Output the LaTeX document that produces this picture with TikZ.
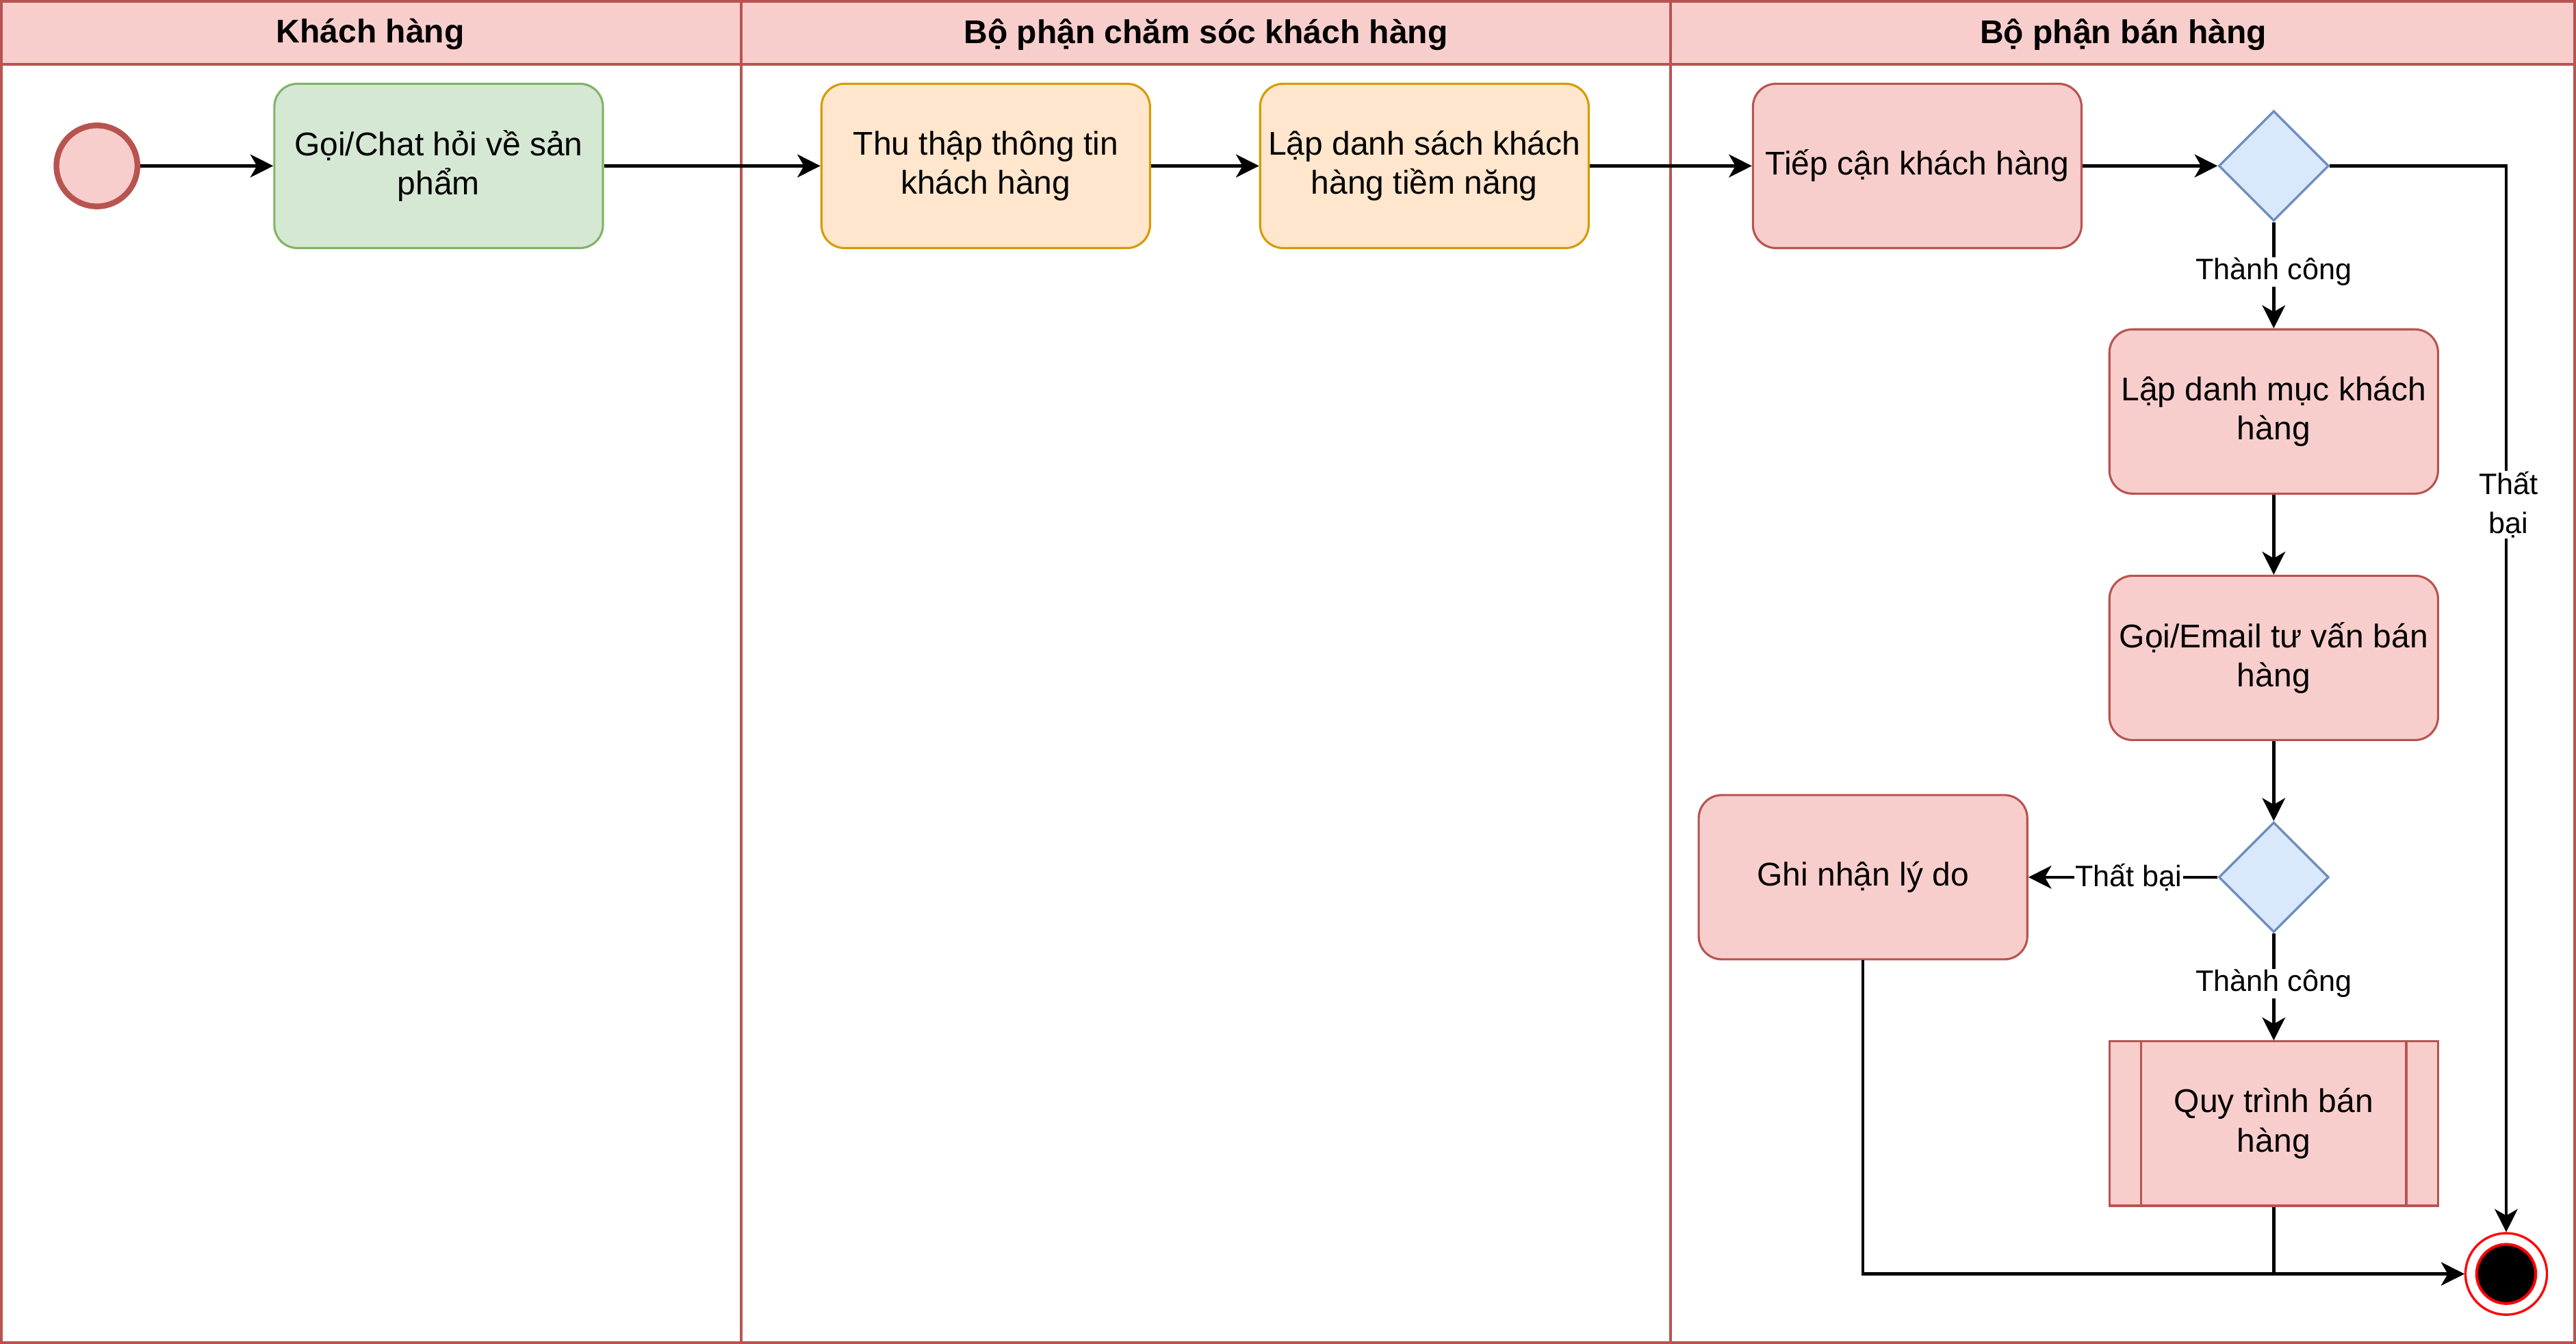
\documentclass[tikz,border=0pt]{standalone}
\usepackage{fontspec}
\setmainfont{Liberation Sans}
\usetikzlibrary{arrows.meta,shapes.geometric,calc}
\definecolor{lanered}{HTML}{B85450}
\definecolor{headfill}{HTML}{F8CECC}
\definecolor{gfill}{HTML}{D5E8D4}
\definecolor{gline}{HTML}{82B366}
\definecolor{ofill}{HTML}{FFE6CC}
\definecolor{oline}{HTML}{D79B00}
\definecolor{bfill}{HTML}{DAE8FC}
\definecolor{bline}{HTML}{6C8EBF}
\definecolor{endred}{HTML}{FF0000}
\begin{document}
\begin{tikzpicture}[x=1pt,y=-1pt,
  laneline/.style={draw=lanered, line width=1.6pt},
  head/.style={font=\fontsize{20}{23}\selectfont\bfseries, inner sep=0pt},
  box/.style={rectangle, rounded corners=14pt, minimum width=200pt, minimum height=100pt,
    inner sep=0pt, align=center, line width=1.3pt, font=\fontsize{20}{24}\selectfont},
  gbox/.style={box, fill=gfill, draw=gline},
  obox/.style={box, fill=ofill, draw=oline},
  rbox/.style={box, fill=headfill, draw=lanered},
  subbox/.style={box, rounded corners=0pt, fill=headfill, draw=lanered},
  subline/.style={draw=lanered, line width=1.3pt},
  dec/.style={diamond, shape aspect=1, minimum width=67pt, minimum height=67pt, inner sep=0pt,
    fill=bfill, draw=bline, line width=1.4pt},
  startc/.style={circle, minimum size=49.3pt, inner sep=0pt, fill=headfill, draw=lanered, line width=3.5pt},
  endouter/.style={circle, minimum size=49.6pt, inner sep=0pt, fill=white, draw=endred, line width=1.4pt},
  endinner/.style={circle, minimum size=36pt, inner sep=0pt, fill=black, draw=endred, line width=1.7pt},
  conn/.style={line width=1.8pt, -{Stealth[length=14pt,width=14pt,inset=4pt]}},
  lbl/.style={fill=white, inner sep=0.6pt, align=center, font=\fontsize{18}{23.5}\selectfont}
]
\useasboundingbox (0,0) rectangle (1568,818);
% lanes
\fill[headfill] (0,0) rectangle (1568,39);
\draw[laneline] (0.8,0.8) rectangle (1567.2,817.2);
\draw[laneline] (0,39) -- (1568,39);
\draw[laneline] (451,0) -- (451,818);
\draw[laneline] (1017,0) -- (1017,818);
\node[head] (h1) at (225.5,21) {Khách hàng};
\node[head] (h2) at (734,21) {Bộ phận chăm sóc khách hàng};
\node[head] (h3) at (1292.5,21) {Bộ phận bán hàng};
% nodes
\node[startc] (start) at (59,101) {};
\node[gbox] (b1) at (267,101) {Gọi/Chat hỏi về sản\\phẩm};
\node[obox] (b2) at (600,101) {Thu thập thông tin\\khách hàng};
\node[obox] (b3) at (867,101) {Lập danh sách khách\\hàng tiềm năng};
\node[rbox] (b4) at (1167,101) {Tiếp cận khách hàng};
\node[dec] (d1) at (1384,101) {};
\node[rbox] (b5) at (1384,250.5) {Lập danh mục khách\\hàng};
\node[rbox] (b6) at (1384,400.5) {Gọi/Email tư vấn bán\\hàng};
\node[dec] (d2) at (1384,534) {};
\node[rbox] (b7) at (1134,534) {Ghi nhận lý do};
\node[subbox] (b8) at (1384,684) {Quy trình bán\\hàng};
\draw[subline] ($(b8.north west)+(20,0)$) -- ($(b8.south west)+(20,0)$);
\draw[subline] ($(b8.north east)+(-20,0)$) -- ($(b8.south east)+(-20,0)$);
\node[endouter] (endc) at (1525.5,775.5) {};
\node[endinner] (endin) at (endc.center) {};
% connectors
\draw[conn] (start) -- (b1);
\draw[conn] (b1) -- (b2);
\draw[conn] (b2) -- (b3);
\draw[conn] (b3) -- (b4);
\draw[conn] (b4) -- (d1);
\draw[conn] (d1) -- node[lbl,pos=0.47]{Thành công} (b5);
\draw[conn] (d1.east) -- (d1.east -| endc.north) -- node[lbl,pos=0.318,xshift=1.5pt]{Thất\\bại} (endc.north);
\draw[conn] (b5) -- (b6);
\draw[conn] (b6) -- (d2);
\draw[conn] (d2) -- node[lbl,pos=0.47]{Thất bại} (b7);
\draw[conn] (d2) -- node[lbl,pos=0.47]{Thành công} (b8);
\draw[conn] (b7.south) |- (endc.west);
\draw[conn] (b8.south) |- (endc.west);
\end{tikzpicture}
\end{document}
